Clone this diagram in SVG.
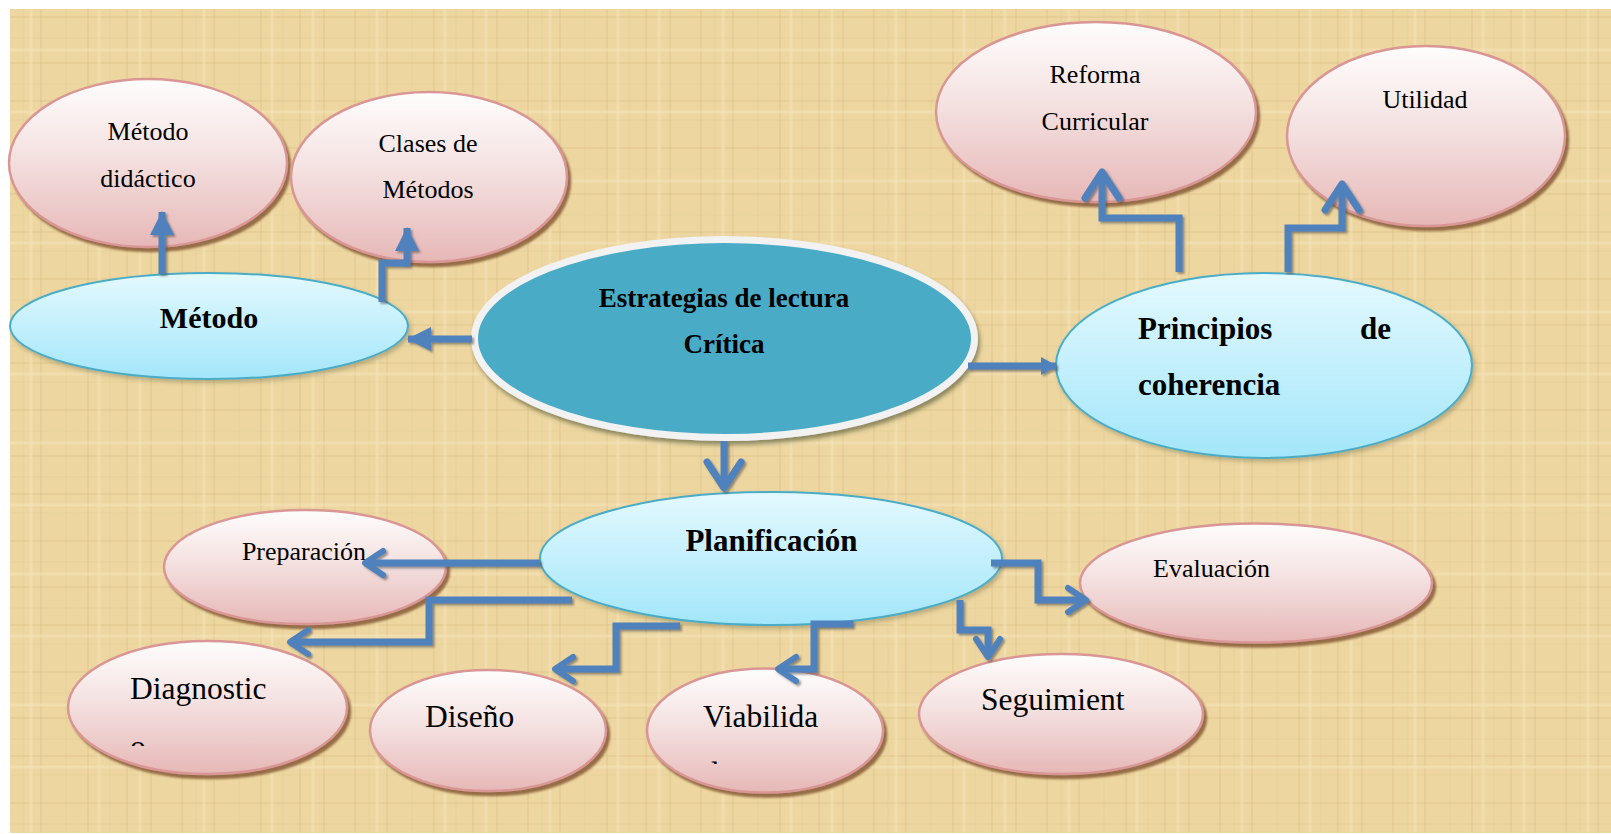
<svg xmlns="http://www.w3.org/2000/svg" width="1611" height="834" viewBox="0 0 1611 834">
<defs>
<style>
.pink{fill:url(#gPink);stroke:#d99694;stroke-width:2.5;filter:url(#shPink)}
.blue{fill:url(#gBlue);stroke:#4bacc6;stroke-width:2;filter:url(#shBlue)}
.t{font-family:"Liberation Serif","Times New Roman",serif;fill:#000}
.b{font-weight:bold}
.c{fill:none;stroke:#4f81bd;stroke-width:7;stroke-linejoin:miter}
</style>
<linearGradient id="gPink" x1="0" y1="0" x2="0" y2="1">
<stop offset="0" stop-color="#fffdfd"/>
<stop offset="0.45" stop-color="#f4e2e1"/>
<stop offset="1" stop-color="#e6b8b7"/>
</linearGradient>
<linearGradient id="gBlue" x1="0" y1="0" x2="0" y2="1">
<stop offset="0" stop-color="#e4f9fe"/>
<stop offset="1" stop-color="#a3e6fa"/>
</linearGradient>
<filter id="shPink" x="-10%" y="-10%" width="125%" height="130%">
<feDropShadow dx="3" dy="4" stdDeviation="1" flood-color="#7a4a2a" flood-opacity="0.75"/>
</filter>
<filter id="shBlue" x="-10%" y="-10%" width="125%" height="130%">
<feDropShadow dx="2" dy="3" stdDeviation="2" flood-color="#5a5a3a" flood-opacity="0.35"/>
</filter>
<filter id="shC" x="-10%" y="-10%" width="125%" height="130%">
<feDropShadow dx="2" dy="4" stdDeviation="2" flood-color="#3d4a2a" flood-opacity="0.55"/>
</filter>
<filter id="shA" x="-20%" y="-20%" width="140%" height="140%">
<feDropShadow dx="2" dy="2" stdDeviation="0.8" flood-color="#4a4a4a" flood-opacity="0.55"/>
</filter>
<pattern id="papyrus" x="0" y="0" width="173" height="131" patternUnits="userSpaceOnUse">
<rect width="173" height="131" fill="#edd6a0"/>
<g stroke="#c9ab6a" stroke-opacity="0.18" stroke-width="2">
<line x1="9" y1="0" x2="9" y2="131"/><line x1="41" y1="0" x2="41" y2="131"/><line x1="88" y1="0" x2="88" y2="131"/><line x1="127" y1="0" x2="127" y2="131"/><line x1="151" y1="0" x2="151" y2="131"/>
<line x1="0" y1="17" x2="173" y2="17"/><line x1="0" y1="63" x2="173" y2="63"/><line x1="0" y1="101" x2="173" y2="101"/>
</g>
<g stroke="#c9ab6a" stroke-opacity="0.12" stroke-width="1">
<line x1="23" y1="0" x2="23" y2="131"/><line x1="66" y1="0" x2="66" y2="131"/><line x1="110" y1="0" x2="110" y2="131"/>
<line x1="0" y1="38" x2="173" y2="38"/><line x1="0" y1="84" x2="173" y2="84"/><line x1="0" y1="120" x2="173" y2="120"/>
</g>
<g stroke="#f8eac6" stroke-opacity="0.35" stroke-width="3">
<line x1="31" y1="0" x2="31" y2="131"/><line x1="99" y1="0" x2="99" y2="131"/><line x1="140" y1="0" x2="140" y2="131"/>
<line x1="0" y1="50" x2="173" y2="50"/><line x1="0" y1="112" x2="173" y2="112"/>
</g>
</pattern>
<marker id="tri" markerUnits="userSpaceOnUse" markerWidth="24" markerHeight="24" viewBox="0 0 24 24" refX="23" refY="12" orient="auto" overflow="visible">
<path d="M0,0 L24,12 L0,24 z" fill="#4f81bd"/>
</marker>
<marker id="triS" markerUnits="userSpaceOnUse" markerWidth="16" markerHeight="18" viewBox="0 0 16 18" refX="15" refY="9" orient="auto" overflow="visible">
<path d="M0,0 L16,9 L0,18 z" fill="#4f81bd"/>
</marker>
<marker id="chev" markerUnits="userSpaceOnUse" markerWidth="26" markerHeight="30" viewBox="0 0 26 30" refX="22" refY="15" orient="auto" overflow="visible">
<path d="M4,3 L22,15 L4,27" fill="none" stroke="#4f81bd" stroke-width="6" stroke-linecap="round" stroke-linejoin="round"/>
</marker>
<marker id="chevB" markerUnits="userSpaceOnUse" markerWidth="34" markerHeight="40" viewBox="0 0 34 40" refX="30" refY="20" orient="auto" overflow="visible">
<path d="M4,3 L30,20 L4,37" fill="none" stroke="#4f81bd" stroke-width="7" stroke-linecap="round" stroke-linejoin="round"/>
</marker>
<clipPath id="clipDiag"><rect x="100" y="730" width="100" height="16"/></clipPath>
<clipPath id="clipViab"><rect x="690" y="750" width="60" height="14"/></clipPath>
</defs>

<rect x="0" y="0" width="1611" height="834" fill="#ffffff"/>
<rect x="10" y="9" width="1601" height="824" fill="url(#papyrus)"/>

<g id="metodo-didactico">
<ellipse class="pink" cx="148" cy="163" rx="139" ry="84"/>
<text class="t" x="148" y="140" font-size="26" text-anchor="middle">Método</text>
<text class="t" x="148" y="187" font-size="26" text-anchor="middle">didáctico</text>
</g>
<g id="clases-metodos">
<ellipse class="pink" cx="429" cy="177" rx="138" ry="85"/>
<text class="t" x="428" y="152" font-size="26" text-anchor="middle">Clases de</text>
<text class="t" x="428" y="198" font-size="26" text-anchor="middle">Métodos</text>
</g>
<g id="metodo">
<ellipse class="blue" cx="209" cy="326" rx="199" ry="53"/>
<text class="t b" x="209" y="328" font-size="30" text-anchor="middle">Método</text>
</g>
<g id="estrategias">
<ellipse cx="724.5" cy="338.5" rx="250" ry="99" fill="#4aabc6" stroke="#f2f2f2" stroke-width="7" filter="url(#shC)"/>
<text class="t b" x="724" y="307" font-size="27" text-anchor="middle">Estrategias de lectura</text>
<text class="t b" x="724" y="353" font-size="27" text-anchor="middle">Crítica</text>
</g>
<g id="reforma-curricular">
<ellipse class="pink" cx="1096" cy="112" rx="160" ry="90"/>
<text class="t" x="1095" y="83" font-size="26" text-anchor="middle">Reforma</text>
<text class="t" x="1095" y="130" font-size="26" text-anchor="middle">Curricular</text>
</g>
<g id="utilidad">
<ellipse class="pink" cx="1426" cy="136" rx="139" ry="90"/>
<text class="t" x="1425" y="108" font-size="26" text-anchor="middle">Utilidad</text>
</g>
<g id="principios">
<ellipse class="blue" cx="1264" cy="365.5" rx="208" ry="92.5"/>
<text class="t b" x="1138" y="339" font-size="31">Principios</text>
<text class="t b" x="1391" y="339" font-size="31" text-anchor="end">de</text>
<text class="t b" x="1138" y="395" font-size="31">coherencia</text>
</g>
<g id="planificacion">
<ellipse class="blue" cx="771" cy="558.5" rx="231" ry="66.5"/>
<text class="t b" x="771.5" y="551" font-size="31" text-anchor="middle">Planificación</text>
</g>
<g id="preparacion">
<ellipse class="pink" cx="305" cy="567" rx="141" ry="57"/>
<text class="t" x="304" y="560" font-size="26" text-anchor="middle">Preparación</text>
</g>
<g id="diagnostico">
<ellipse class="pink" cx="207.5" cy="707.5" rx="139.5" ry="66.5"/>
<text class="t" x="130" y="699" font-size="31.5">Diagnostic</text>
<text class="t" x="130" y="757" font-size="31.5" clip-path="url(#clipDiag)">o</text>
</g>
<g id="diseno">
<ellipse class="pink" cx="488" cy="730.5" rx="118" ry="60.5"/>
<text class="t" x="425" y="727" font-size="31.5">Diseño</text>
</g>
<g id="viabilidad">
<ellipse class="pink" cx="765" cy="730.5" rx="118" ry="62"/>
<text class="t" x="703" y="727" font-size="31.5">Viabilida</text>
<text class="t" x="703" y="784" font-size="31.5" clip-path="url(#clipViab)">d</text>
</g>
<g id="seguimiento">
<ellipse class="pink" cx="1061" cy="714" rx="142" ry="60"/>
<text class="t" x="981" y="710" font-size="31.5">Seguimient</text>
</g>
<g id="evaluacion">
<ellipse class="pink" cx="1256" cy="583" rx="176" ry="59.5"/>
<text class="t" x="1153" y="577" font-size="26">Evaluación</text>
</g>

<g id="connectors" filter="url(#shA)">
<path class="c" d="M162,274 V212" marker-end="url(#tri)"/>
<path class="c" d="M382,302 V263 H407 V228" marker-end="url(#tri)"/>
<path class="c" d="M472,339 H408" marker-end="url(#tri)"/>
<path class="c" d="M968,366 H1056" marker-end="url(#triS)"/>
<path class="c" d="M1179,272 V218 H1102 V172" marker-end="url(#chevB)"/>
<path class="c" d="M1288,272 V228 H1342 V184" marker-end="url(#chevB)"/>
<path class="c" d="M724,441 V488" marker-end="url(#chevB)"/>
<path class="c" d="M540,563 H365" marker-end="url(#chev)"/>
<path class="c" d="M572,600 H429 V642 H290" marker-end="url(#chev)"/>
<path class="c" d="M680,626 H616 V669 H555" marker-end="url(#chev)"/>
<path class="c" d="M853,624 H814 V669 H778" marker-end="url(#chev)"/>
<path class="c" d="M960,600 V630 H988 V657" marker-end="url(#chev)"/>
<path class="c" d="M991,563 H1038 V600 H1086" marker-end="url(#chev)"/>
</g>
</svg>
